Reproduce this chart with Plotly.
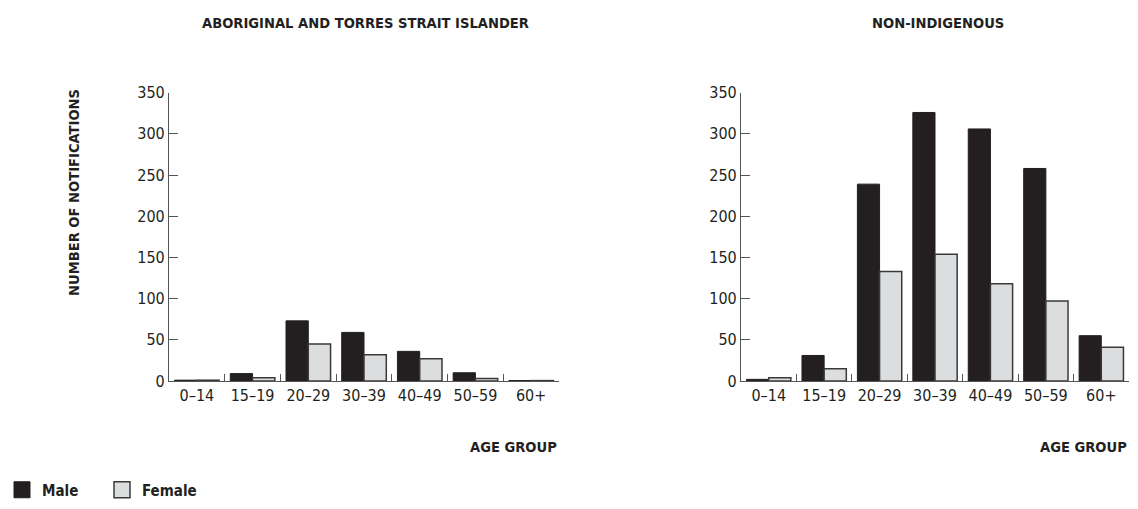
import plotly.graph_objects as go

categories = ["0–14", "15–19", "20–29", "30–39", "40–49", "50–59", "60+"]
atsi_male = [1, 9, 73, 59, 36, 10, 0.5]
atsi_female = [1, 4, 45, 32, 27, 3, 0.5]
nonind_male = [2, 31, 239, 326, 306, 258, 55]
nonind_female = [4, 15, 133, 154, 118, 97, 41]
y_ticks = [0, 50, 100, 150, 200, 250, 300, 350]

MALE_COLOR = "#231f20"
FEMALE_COLOR = "#dcdddf"
LINE_COLOR = "#3a3a3a"
FONT = "Liberation Sans Narrow, Arial Narrow, DejaVu Sans Condensed, sans-serif"

W, H = 1122, 493  # page = figure + 8px body margin on each side = 1138 x 509
OX, OY = 8, 8


def px(x):
    return (x - OX) / W


def py(y):
    return 1 - (y - OY) / H


fig = go.Figure()


def add_pair(male, female, xa, ya):
    fig.add_trace(go.Bar(x=categories, y=male, name="Male", xaxis=xa, yaxis=ya,
                         marker=dict(color=MALE_COLOR, line=dict(color=MALE_COLOR, width=1)),
                         showlegend=False))
    fig.add_trace(go.Bar(x=categories, y=female, name="Female", xaxis=xa, yaxis=ya,
                         marker=dict(color=FEMALE_COLOR, line=dict(color=LINE_COLOR, width=1.5)),
                         showlegend=False))


add_pair(atsi_male, atsi_female, "x", "y")
add_pair(nonind_male, nonind_female, "x2", "y2")

# legend entries
fig.add_trace(go.Scatter(x=[None], y=[None], mode="markers", name="Male",
                         marker=dict(symbol="square", size=16, color=MALE_COLOR,
                                     line=dict(color=MALE_COLOR, width=1))))
fig.add_trace(go.Scatter(x=[None], y=[None], mode="markers", name="Female",
                         marker=dict(symbol="square", size=16, color=FEMALE_COLOR,
                                     line=dict(color=LINE_COLOR, width=1.5))))

ydom = [py(381), py(92.7)]
xcommon = dict(type="category", range=[-0.5, 6.5], showline=True, linecolor="#555555",
               linewidth=1.2, ticks="inside", tickson="boundaries", ticklen=7,
               tickcolor="#555555", tickwidth=1.2,
               tickfont=dict(family=FONT, size=16, color="#231f20"), showgrid=False,
               zeroline=False, fixedrange=True)
ycommon = dict(range=[0, 350], tickvals=y_ticks, showline=True, linecolor="#555555",
               linewidth=1.2, ticks="inside", ticklen=9, tickcolor="#555555", tickwidth=1.2,
               tickfont=dict(family=FONT, size=16, color="#231f20"), showgrid=False,
               zeroline=False, fixedrange=True, domain=ydom)

fig.update_layout(
    width=W, height=H,
    margin=dict(l=0, r=0, t=0, b=0, autoexpand=False),
    paper_bgcolor="white", plot_bgcolor="white",
    barmode="group", bargap=0.2, bargroupgap=0,
    xaxis=dict(domain=[px(169), px(559)], anchor="y", **xcommon),
    yaxis=dict(anchor="x", **ycommon),
    xaxis2=dict(domain=[px(741), px(1129)], anchor="y2", **xcommon),
    yaxis2=dict(anchor="x2", **ycommon),
    legend=dict(orientation="h", x=px(2), y=py(490), yanchor="middle", xanchor="left",
                font=dict(family=FONT, size=15, color="#231f20", weight="bold"),
                entrywidth=55, entrywidthmode="pixels", itemsizing="trace",
                bgcolor="rgba(0,0,0,0)", borderwidth=0),
)

title_font = dict(family=FONT, size=14.6, color="#231f20", weight="bold")
annotations = [
    dict(text="ABORIGINAL AND TORRES STRAIT ISLANDER", x=px(365), y=py(22.5),
         xref="paper", yref="paper", showarrow=False, font=title_font, xanchor="center", yanchor="middle"),
    dict(text="NON-INDIGENOUS", x=px(938), y=py(22.5),
         xref="paper", yref="paper", showarrow=False, font=title_font, xanchor="center", yanchor="middle"),
    dict(text="AGE GROUP", x=px(559), y=py(446),
         xref="paper", yref="paper", showarrow=False, font=title_font, xanchor="right", yanchor="middle"),
    dict(text="AGE GROUP", x=px(1129), y=py(446),
         xref="paper", yref="paper", showarrow=False, font=title_font, xanchor="right", yanchor="middle"),
    dict(text="NUMBER OF NOTIFICATIONS", x=px(74), y=py(193), textangle=-90,
         xref="paper", yref="paper", showarrow=False, font=title_font, xanchor="center", yanchor="middle"),
]
fig.update_layout(annotations=annotations)

fig.write_html("out.html")
